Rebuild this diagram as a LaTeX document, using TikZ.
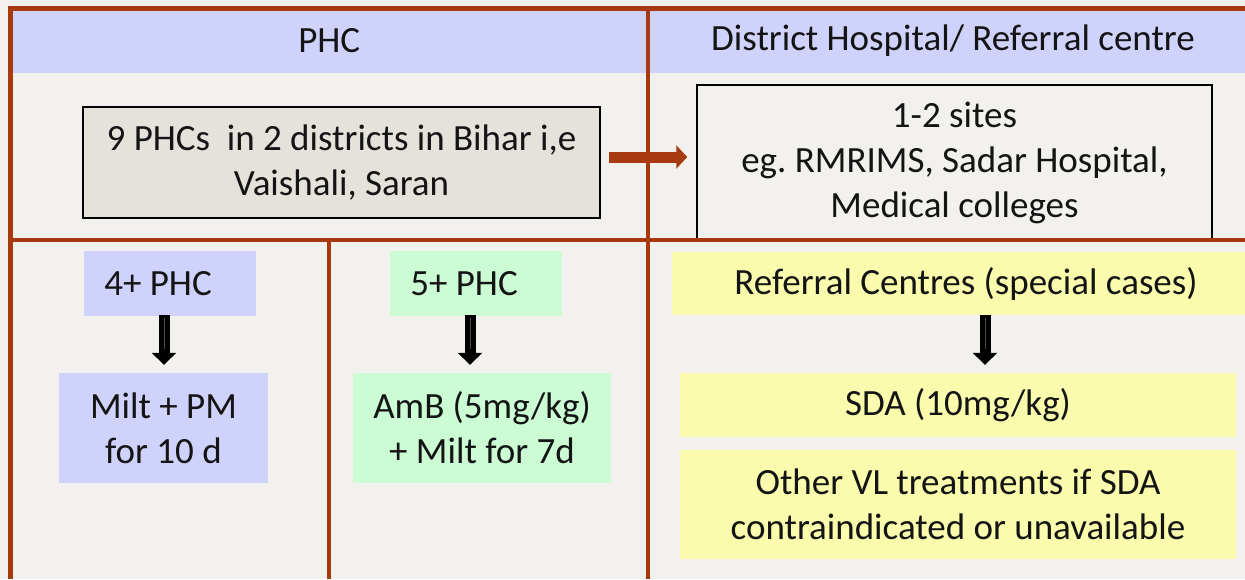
\documentclass[tikz,border=0pt]{standalone}
\usepackage{fontspec}
\setmainfont{Carlito}
\usetikzlibrary{arrows.meta,calc}
\frenchspacing
\definecolor{bgc}{HTML}{F2F1ED}
\definecolor{redc}{HTML}{A83A10}
\definecolor{hblue}{HTML}{CFD3FC}
\definecolor{hgreen}{HTML}{CBFCD3}
\definecolor{hyellow}{HTML}{FAFBAC}
\definecolor{hgray}{HTML}{E4E2DB}
\definecolor{txtc}{HTML}{141414}
\tikzset{
  redline/.style={draw=redc, line width=4.5pt},
  txt/.style={font=\fontsize{37}{45}\selectfont, text=txtc, align=center, inner sep=0pt},
  bluebox/.style={txt, fill=hblue},
  greenbox/.style={txt, fill=hgreen},
  yellowbox/.style={txt, fill=hyellow},
  blackarrow/.style={draw=black, line width=11pt, -{Triangle[width=24pt,length=12pt]}, shorten >=8pt},
  stripe/.style={draw=gray!60!black, line width=1pt},
  redarrow/.style={draw=redc, line width=11pt, -{Triangle[width=23pt,length=11pt]}, shorten <=8pt, shorten >=9pt},
}
\begin{document}
\begin{tikzpicture}[x=1pt,y=-1pt]
\useasboundingbox (0,0) rectangle (1245,579);
\fill[bgc] (0,0) rectangle (1245,579);
% headers
\node[bluebox, minimum width=637.5pt, minimum height=64pt] (hphc) at (329.25,40.5) {PHC};
\node[bluebox, minimum width=610pt, minimum height=64pt] (hdh) at (953,40.5) {District Hospital/ Referral centre};
% top boxes
\node[txt, fill=hgray, draw=black, line width=1.5pt, minimum width=517pt, minimum height=111pt] (phc) at (341.5,162.5) {9 PHCs\ \ in 2 districts in Bihar i,e\\Vaishali, Saran};
\node[txt, draw=black, line width=1.5pt, minimum width=515pt, minimum height=155pt] (dh) at (954.5,162.5) {1-2 sites\\eg. RMRIMS, Sadar Hospital,\\Medical colleges};
\draw[redarrow] ($(phc.east)+(0,-5.5)$) -- ($(dh.west)+(0,-5.5)$);
% bottom left
\node[bluebox, minimum width=172pt, minimum height=65pt] (p4) at (170,283.5) {4+ PHC\hspace*{24pt}};
\node[bluebox, minimum width=209pt, minimum height=110pt] (m4) at (163.5,428) {Milt + PM\\for 10 d};
\node[greenbox, minimum width=172pt, minimum height=65pt] (p5) at (476,283.5) {5+ PHC\hspace*{24pt}};
\node[greenbox, minimum width=258pt, minimum height=110pt] (m5) at (482,428) {AmB (5mg/kg)\\+ Milt for 7d};
% bottom right
\node[yellowbox, minimum width=588pt, minimum height=63pt] (rc) at (966,283.5) {Referral Centres (special cases)};
\node[yellowbox, minimum width=556pt, minimum height=64pt] (sda) at (958,405) {SDA (10mg/kg)};
\node[yellowbox, minimum width=556pt, minimum height=109pt] (oth) at (958,504.5) {Other VL treatments if SDA\\contraindicated or unavailable};
% black arrows
\coordinate (a4) at ($(p4.south)+(-6,-1)$);
\coordinate (a5) at ($(p5.south)+(-6,-1)$);
\coordinate (ar) at ($(rc.south)+(19,0)$);
\foreach \c/\t in {a4/m4, a5/m5, ar/sda}{
  \draw[blackarrow] (\c) -- (\c |- \t.north);
  \draw[stripe] ($(\c)+(0,3)$) -- ($(\c)+(0,34)$);
}
% red frame lines
\draw[redline, line join=miter] (10.5,579) -- (10.5,8.5) -- (1245,8.5);
\draw[redline] (648,8.5) -- (648,579);
\draw[redline] (10.5,240) -- (1245,240);
\draw[redline] (329,240) -- (329,579);
\end{tikzpicture}
\end{document}
